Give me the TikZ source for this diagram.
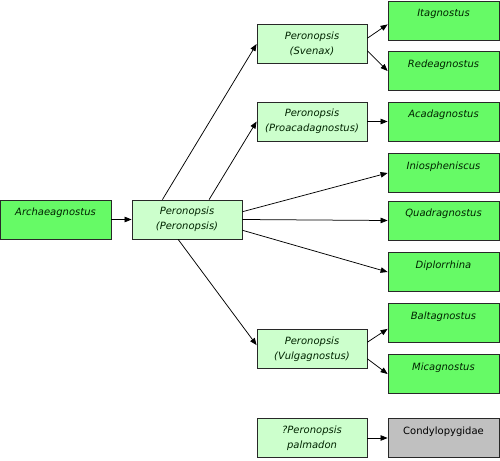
\documentclass[tikz,border=0pt]{standalone}
\usepackage{fontspec}
\setmainfont{DejaVu Sans}
\usetikzlibrary{arrows.meta}
\begin{document}
\begin{tikzpicture}[x=1pt, y=-1pt,
  taxon/.style={draw=MyBorder, line width=0.8pt, minimum height=39pt, inner sep=0pt,
    align=center, text=MyText, font=\fontsize{10}{15}\selectfont\itshape},
  genus/.style={taxon, fill=MyGreen, minimum width=111pt},
  subgenus/.style={taxon, fill=MyLight, minimum width=110pt},
  link/.style={-{Triangle[length=7pt, width=5.5pt]}, line width=0.75pt}]
\definecolor{MyGreen}{RGB}{102, 250, 102}
\definecolor{MyLight}{RGB}{204, 255, 204}
\definecolor{MyGray}{RGB}{192, 192, 192}
\definecolor{MyBorder}{RGB}{40, 40, 40}
\definecolor{MyText}{RGB}{0, 35, 0}
\useasboundingbox (0,0) rectangle (500,460);
\node[genus] (arch) at (55.5,219.5) {Archaeagnostus\\ \mbox{}};
\node[subgenus] (per) at (187,219.5) {Peronopsis\\(Peronopsis)};
\node[subgenus] (sven) at (312,44) {Peronopsis\\(Svenax)};
\node[subgenus] (proac) at (312,121.5) {Peronopsis\\(Proacadagnostus)};
\node[subgenus] (vulg) at (312,349) {Peronopsis\\(Vulgagnostus)};
\node[subgenus] (palm) at (312,438) {?Peronopsis\\palmadon};
\foreach \name/\y/\txt in {itag/20.5/Itagnostus, rede/71/Redeagnostus, acad/121.5/Acadagnostus,
  inio/173/Iniospheniscus, quad/220.5/Quadragnostus, dipl/272/Diplorrhina,
  balt/323/Baltagnostus, mica/374/Micagnostus}{
\node[genus] (\name) at (443.5,\y) {\txt\\ \mbox{}};
}
\node[genus, fill=MyGray, text=black, font=\fontsize{10}{15}\selectfont] (cond) at (443.5,438) {Condylopygidae\\ \mbox{}};
\draw[link] (arch) -- (per);
\draw[link] (per.141) -- (sven.west);
\draw[link] (per.42) -- (proac.west);
\draw[link] (per.8) -- (inio.west);
\draw[link] (per.east) -- (quad.west);
\draw[link] (per.-11) -- (dipl.west);
\draw[link] (per.246) -- (vulg.176);
\draw[link] (sven.6) -- (itag.184);
\draw[link] (sven.-7) -- (rede.west);
\draw[link] (proac) -- (acad);
\draw[link] (vulg.7) -- (balt.186);
\draw[link] (vulg.-10) -- (mica.west);
\draw[link] (palm) -- (cond);
\end{tikzpicture}
\end{document}
